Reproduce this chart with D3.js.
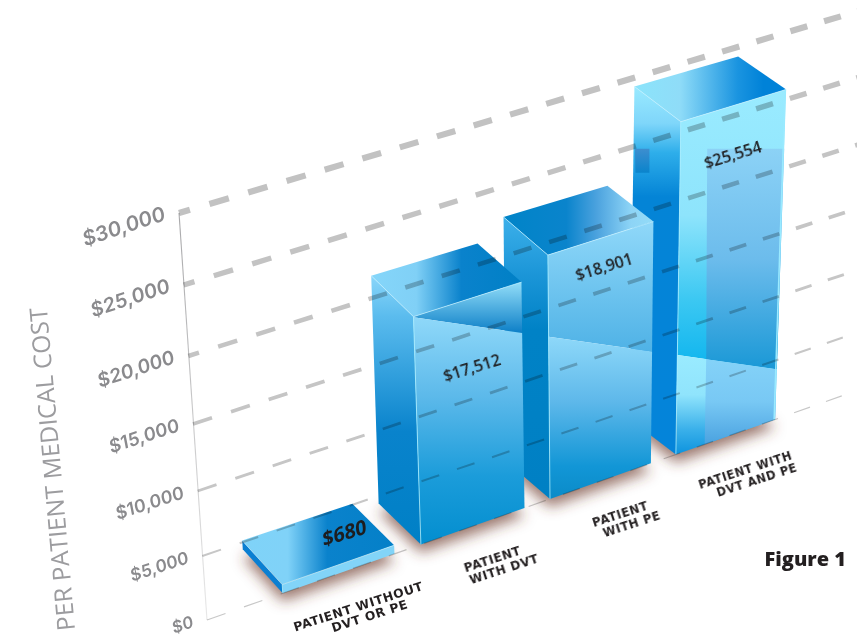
<!DOCTYPE html>
<html>
<head>
<meta charset="utf-8">
<script src="https://cdnjs.cloudflare.com/ajax/libs/d3/7.8.5/d3.min.js"></script>
<style>
html, body { margin: 0; padding: 0; background: #fff; overflow: hidden; }
</style>
</head>
<body>
<script>
// data
const categories = ["none", "dvt", "pe", "both"];
const categoryLines = [["PATIENT WITHOUT", "DVT OR PE"], ["PATIENT", "WITH DVT"], ["PATIENT", "WITH PE"], ["PATIENT WITH", "DVT AND PE"]];
const values = [680, 17512, 18901, 25554];
const tickValues = [0, 5000, 10000, 15000, 20000, 25000, 30000];
const yTitle = "PER PATIENT MEDICAL COST";

// the front plane of the picture: each value has a line from the axis out to the right
const leftX = d3.scaleLinear().domain([0, 30000]).range([207, 179]);
const leftY = d3.scaleLinear().domain(tickValues).range([620, 556, 491, 424, 356, 285, 213]);
const rightX = d3.scaleLinear().domain([0, 30000]).range([860, 879]);
const rightY = d3.scaleLinear().domain(tickValues).range([389.5, 330.6, 267, 204.5, 140, 72, 5]);

const band = d3.scaleBand().domain(categories).range([0, 1]).paddingInner(0.2);
const along = d3.scalePow().exponent(0.952).domain([0, 1]).range([0.116, 0.87]);
const depthX = d3.scaleLinear().domain([0.116, 0.87]).range([-40, -48]);
const depthY = d3.scaleLinear().domain([0.116, 0.87]).range([-44, -33]);
// the bars stand a hair taller than the grid
const barHeight = d3.scaleLinear().domain([0, 30000]).range([0, 30240]);

const plane = (t, v) => [
  leftX(v) + t * (rightX(v) - leftX(v)),
  leftY(v) + t * (rightY(v) - leftY(v))
];
const back = (t, v) => {
  const p = plane(t, v);
  return [p[0] + depthX(t), p[1] + depthY(t)];
};

// all the front faces share one reflection line
const reflectY = x => 317 + 0.143 * (x - 411);
const cut = (p, q) => {
  const s = (reflectY(p[0]) - p[1]) / ((q[1] - p[1]) - 0.143 * (q[0] - p[0]));
  const c = Math.max(0, Math.min(1, s));
  return [p[0] + c * (q[0] - p[0]), p[1] + c * (q[1] - p[1])];
};

const width = 857, height = 644;
const svg = d3.select("body").append("svg")
  .attr("width", width)
  .attr("height", height)
  .style("display", "block");
const defs = svg.append("defs");

function gradient(id, stops, horizontal) {
  const g = defs.append("linearGradient").attr("id", id)
    .attr("x1", 0).attr("y1", 0)
    .attr("x2", horizontal ? 1 : 0).attr("y2", horizontal ? 0 : 1);
  stops.forEach(s => g.append("stop").attr("offset", s[0]).attr("stop-color", s[1]));
  return "url(#" + id + ")";
}

const topFill = [
  gradient("t0", [[0, "#7fd3f8"], [0.3, "#80d2f8"], [0.56, "#0a82cc"], [1, "#0480c8"]], true),
  gradient("t1", [[0, "#85d6fa"], [0.3, "#80d0f6"], [0.6, "#0a82cc"], [1, "#0080c6"]], true),
  gradient("t2", [[0, "#0084c8"], [0.42, "#0a84cc"], [0.62, "#4ba2de"], [0.85, "#8dd4f6"], [1, "#93dcf8"]], true),
  gradient("t3", [[0, "#8be4fb"], [0.3, "#8fdcf8"], [0.68, "#1a94e0"], [0.85, "#0082d8"], [1, "#0082d8"]], true)
];
const leftFill = [
  gradient("l0", [[0, "#0a7fd2"], [1, "#0a7fd2"]]),
  gradient("l1", [[0, "#8ad6fa"], [0.15, "#5bbcee"], [0.58, "#0983cc"], [1, "#0080c6"]]),
  gradient("l2", [[0, "#3cb0ea"], [0.2, "#1c96d8"], [0.4, "#0082c6"], [1, "#0080c4"]]),
  gradient("l3", [[0, "#9aeaff"], [0.1, "#7fd6fa"], [0.18, "#2eaeea"], [0.3, "#0484d6"], [1, "#0484da"]])
];
const upperFill = [
  "#82d4f8",
  gradient("u1", [[0, "#93def9"], [1, "#0d7fc7"]]),
  gradient("u2", [[0, "#90d8f9"], [1, "#4fb2e6"]]),
  gradient("u3", [[0, "#9aebff"], [0.45, "#8ee4fc"], [0.75, "#3cc8f2"], [1, "#0db4ee"]])
];
const lowerFill = [
  gradient("d0", [[0, "#82d4f8"], [1, "#82d4f8"]]),
  gradient("d1", [[0, "#8fd8f9"], [0.35, "#5cb9ea"], [0.7, "#1b9cda"], [1, "#038ecf"]]),
  gradient("d2", [[0, "#8ed8f9"], [0.4, "#5eb8ea"], [0.8, "#1296d6"], [1, "#0a8bc8"]]),
  gradient("d3", [[0, "#9aebff"], [0.4, "#90e4fc"], [0.75, "#3ab0ea"], [1, "#0d93de"]])
];
const panelUpper = gradient("pu", [[0, "#8cd2f6"], [0.5, "#6cbcec"], [1, "#1a98d6"]]);
const panelLower = gradient("pl", [[0, "#84d2f8"], [0.5, "#78c8f4"], [1, "#4aa2e0"]]);
const panelLeft = gradient("pf", [[0, "#3d8ecf"], [1, "#0a84cc"]]);

defs.append("filter").attr("id", "soft")
  .attr("x", "-30%").attr("y", "-30%").attr("width", "160%").attr("height", "160%")
  .append("feGaussianBlur").attr("stdDeviation", 7);

const axisFade = defs.append("linearGradient").attr("id", "axisFade")
  .attr("gradientUnits", "userSpaceOnUse")
  .attr("x1", 0).attr("y1", leftY(30000)).attr("x2", 0).attr("y2", leftY(0));
axisFade.append("stop").attr("offset", 0).attr("stop-color", "#a8a8aa");
axisFade.append("stop").attr("offset", 1).attr("stop-color", "#e8e8e8");

const pts = a => a.map(p => p.join(",")).join(" ");

const bars = categories.map((c, i) => {
  const t0 = along(band(c)), t1 = along(band(c) + band.bandwidth());
  return { c, i, v: values[i], t0, t1 };
});

// shadows on the floor
svg.append("g").attr("filter", "url(#soft)").attr("transform", "translate(0,8)")
  .selectAll("polygon").data(bars).enter().append("polygon")
  .attr("fill", "#6b3a2c")
  .attr("opacity", 0.68)
  .attr("points", d => pts([plane(d.t0, 0), plane(d.t1, 0), back(d.t1, 0), back(d.t0, 0)]));

// back to front so each bar hides the side of the one behind it
const barG = svg.append("g").selectAll("g")
  .data(bars.slice().reverse()).enter().append("g");

barG.each(function (d) {
  const g = d3.select(this);
  const h = barHeight(d.v);
  const tl = plane(d.t0, h), tr = plane(d.t1, h);
  const bl = plane(d.t0, 0), br = plane(d.t1, 0);
  const btl = back(d.t0, h), btr = back(d.t1, h), bbl = back(d.t0, 0);
  const ml = cut(tl, bl), mr = cut(tr, br);

  g.append("polygon").attr("points", pts([btl, btr, tr, tl])).attr("fill", topFill[d.i]);
  g.append("polygon").attr("points", pts([btl, tl, bl, bbl])).attr("fill", leftFill[d.i]);
  g.append("polygon").attr("points", pts([tl, tr, mr, ml])).attr("fill", upperFill[d.i]);
  g.append("polygon").attr("points", pts([ml, mr, br, bl])).attr("fill", lowerFill[d.i]);

  // the tallest bar has a second pane over part of its faces
  if (d.i === 3) {
    const f = 0.29;
    const mix = (a, b, s) => [a[0] + s * (b[0] - a[0]), a[1] + s * (b[1] - a[1])];
    const pb = mix(bl, br, f), pm = mix(ml, mr, f);
    const py = tl[1] + 27;
    g.append("polygon").attr("fill", panelUpper)
      .attr("points", pts([[pm[0] + 1, py], [tr[0] - 2, py], mr, pm]));
    g.append("polygon").attr("fill", panelLower)
      .attr("points", pts([pm, mr, br, pb]));
    g.append("polygon").attr("fill", panelLeft)
      .attr("points", pts([[btl[0] + 0.5, py], [btl[0] + 15, py], [btl[0] + 15, py + 24], [btl[0] + 1, py + 24]]));
    g.append("line").attr("x1", tr[0] - 1).attr("y1", tr[1]).attr("x2", br[0] - 1).attr("y2", br[1])
      .attr("stroke", "#9aeaff").attr("stroke-width", 1.5);
  }

  // thin highlights on the edges
  g.append("line").attr("x1", tl[0]).attr("y1", tl[1]).attr("x2", bl[0]).attr("y2", bl[1])
    .attr("stroke", "#a8efff").attr("stroke-width", 0.8);
  g.append("line").attr("x1", btl[0]).attr("y1", btl[1]).attr("x2", tl[0]).attr("y2", tl[1])
    .attr("stroke", "#c4f1ff").attr("stroke-width", 0.7);
  g.append("line").attr("x1", tl[0]).attr("y1", tl[1]).attr("x2", tr[0]).attr("y2", tr[1])
    .attr("stroke", "#c4f1ff").attr("stroke-width", 0.7);
});

// axis line and dashed grid, multiplied so they show through the glass
svg.append("line")
  .attr("x1", plane(0, 0)[0]).attr("y1", plane(0, 0)[1])
  .attr("x2", plane(0, 30000)[0] + 0.01).attr("y2", plane(0, 30000)[1])
  .attr("stroke", "url(#axisFade)").attr("stroke-width", 1.1);

const gridWidth = d3.scaleLinear().domain([0, 30000]).range([1.2, 6.2]);
const gridGrey = d3.scaleLinear().domain([0, 30000]).range(["#c8c8c8", "#c2c2c2"]);
const dashStart = d3.scaleLinear().domain([0, 30000]).range([37, 39]);
const dashPhase = d3.scaleThreshold().domain([20000]).range([0, 9]);

// the dashes get shorter further into the picture
function dashes(v) {
  const a = plane(0, v), b = plane(1, v);
  const stretch = Math.hypot(b[0] - a[0], b[1] - a[1]) / (b[0] - a[0]);
  const out = [];
  let x = a[0] - dashPhase(v);
  while (x < width + 60) {
    const p = dashStart(v) - 0.0087 * (x - a[0]);
    out.push(p / 2 * stretch, p / 2 * stretch);
    x += p;
  }
  return out.join(" ");
}

svg.append("g").style("mix-blend-mode", "multiply")
  .selectAll("line").data(tickValues).enter().append("line")
  .attr("x1", d => plane(0, d)[0]).attr("y1", d => plane(0, d)[1])
  .attr("x2", d => plane(1, d)[0]).attr("y2", d => plane(1, d)[1])
  .attr("stroke", gridGrey)
  .attr("stroke-width", gridWidth)
  .attr("stroke-dasharray", dashes)
  .attr("stroke-dashoffset", d => dashPhase(d));

// tick labels
const tickSize = d3.scaleLinear().domain([0, 30000]).range([16.5, 20.5]);
const money = d3.format("$,");
svg.append("g").selectAll("text").data(tickValues).enter().append("text")
  .attr("transform", d => "translate(" + (leftX(d) - 13) + "," + (leftY(d) + 7) + ") rotate(-18) skewX(-7)")
  .attr("text-anchor", "end")
  .attr("font-family", "Inter")
  .attr("font-weight", 600)
  .attr("font-size", tickSize)
  .attr("fill", "#8a8a8d")
  .text(d => money(d));

svg.append("text")
  .attr("transform", "translate(75,630) rotate(-95)")
  .attr("font-family", "Open Sans")
  .attr("font-size", 24.5)
  .attr("fill", "#9c9c9f")
  .text(yTitle);

// value labels on the faces
const labelDrop = d3.scaleOrdinal(categories, [-30, 67, 27, 47]);
const labelShift = d3.scaleOrdinal(categories, [7, 6, 5, 1]);
const labelSize = d3.scaleOrdinal(categories, [20, 16, 16, 16]);
svg.append("g").selectAll("text").data(bars).enter().append("text")
  .attr("transform", d => {
    const a = plane((d.t0 + d.t1) / 2, d.v);
    const lean = d.i === 0 ? " skewX(-12)" : "";
    return "translate(" + (a[0] + labelShift(d.c)) + "," + (a[1] + labelDrop(d.c) + 5) + ") rotate(-17)" + lean;
  })
  .attr("text-anchor", "middle")
  .attr("font-family", "Open Sans")
  .attr("font-weight", d => d.i === 0 ? 700 : 600)
  .attr("font-size", d => labelSize(d.c))
  .attr("fill", "#1d1d1f")
  .text(d => money(d.v));

// category labels below the bars
const catSize = d3.scaleLinear().domain([0.116, 0.87]).range([12.3, 11.2]);
const catG = svg.append("g").selectAll("g").data(bars).enter().append("g")
  .attr("transform", d => {
    const a = plane((d.t0 + d.t1) / 2, 0);
    return "translate(" + (a[0] + 21) + "," + (a[1] + 37) + ") rotate(-18)";
  });
catG.selectAll("text").data(d => categoryLines[d.i].map((s, k) => ({ s, k, t: d.t0 }))).enter().append("text")
  .attr("text-anchor", "middle")
  .attr("x", d => d.k * 8)
  .attr("y", d => d.k * 12.5)
  .attr("font-family", "DejaVu Sans")
  .attr("font-weight", 700)
  .attr("font-size", d => catSize(d.t))
  .attr("letter-spacing", 0.6)
  .attr("fill", "#231f20")
  .text(d => d.s);

svg.append("text")
  .attr("x", 846).attr("y", 566)
  .attr("text-anchor", "end")
  .attr("font-family", "Open Sans")
  .attr("font-weight", 800)
  .attr("font-size", 20)
  .attr("fill", "#231f20")
  .text("Figure 1");
</script>
</body>
</html>
